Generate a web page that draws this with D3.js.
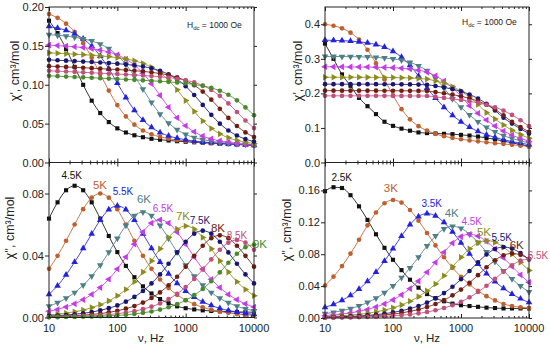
<!DOCTYPE html>
<html>
<head>
<meta charset="utf-8">
<script src="https://cdn.jsdelivr.net/npm/d3@7"></script>
<style>
  body { margin: 0; background: #fff; }
  svg { display: block; font-family: "Liberation Sans", Arial, sans-serif; }
</style>
</head>
<body>
<svg id="chart" width="550" height="349"></svg>
<script>
// ac frequencies, Hz (8 points per decade)
const freqs = [10, 13.34, 17.78, 23.71, 31.62, 42.17, 56.23, 74.99, 100, 133.4, 177.8, 237.1,
  316.2, 421.7, 562.3, 749.9, 1000, 1334, 1778, 2371, 3162, 4217, 5623, 7499, 10000];

const tempsLeft = ["4.5K", "5K", "5.5K", "6K", "6.5K", "7K", "7.5K", "8K", "8.5K", "9K"];
const tempsRight = ["2.5K", "3K", "3.5K", "4K", "4.5K", "5K", "5.5K", "6K", "6.5K"];

// chi' left (cm3/mol), one row per temperature
const leftRe = [
  [.1824,.1665,.1461,.1230,.0999,.0795,.0636,.0520,.0439,.0386,.0350,.0325,.0305,.0293,.0283,.0274,.0267,.0260,.0254,.0248,.0242,.0237,.0232,.0227,.0222],
  [.1910,.1861,.1786,.1680,.1535,.1348,.1137,.0925,.0738,.0593,.0487,.0412,.0363,.0330,.0306,.0288,.0277,.0267,.0258,.0252,.0245,.0238,.0232,.0227,.0222],
  [.1750,.1729,.1700,.1656,.1590,.1497,.1370,.1206,.1021,.0836,.0672,.0545,.0452,.0386,.0342,.0313,.0292,.0275,.0264,.0255,.0247,.0241,.0234,.0228,.0222],
  [.1645,.1636,.1626,.1610,.1591,.1563,.1523,.1463,.1377,.1261,.1111,.0942,.0773,.0623,.0507,.0421,.0361,.0321,.0293,.0274,.0258,.0248,.0239,.0232,.0225],
  [.1510,.1504,.1497,.1488,.1479,.1464,.1446,.1421,.1385,.1330,.1254,.1149,.1014,.0863,.0711,.0576,.0472,.0395,.0340,.0304,.0279,.0261,.0246,.0237,.0228],
  [.1410,.1405,.1399,.1393,.1387,.1379,.1371,.1362,.1348,.1332,.1308,.1274,.1224,.1154,.1058,.0935,.0796,.0657,.0534,.0438,.0368,.0318,.0284,.0260,.0244],
  [.1320,.1315,.1310,.1304,.1298,.1292,.1286,.1279,.1271,.1262,.1249,.1234,.1212,.1180,.1134,.1069,.0981,.0868,.0741,.0613,.0500,.0412,.0347,.0301,.0269],
  [.1239,.1234,.1229,.1224,.1219,.1213,.1207,.1201,.1196,.1189,.1181,.1172,.1160,.1145,.1125,.1096,.1053,.0993,.0912,.0808,.0690,.0573,.0469,.0387,.0327],
  [.1180,.1175,.1170,.1165,.1160,.1154,.1149,.1143,.1137,.1132,.1126,.1119,.1112,.1103,.1092,.1077,.1058,.1030,.0990,.0934,.0857,.0760,.0650,.0540,.0443],
  [.1115,.1110,.1105,.1100,.1095,.1090,.1085,.1079,.1074,.1068,.1063,.1057,.1051,.1045,.1037,.1029,.1018,.1004,.0986,.0960,.0923,.0871,.0800,.0709,.0608]
];

// chi'' left
const leftIm = [
  [.0638,.0743,.0821,.0850,.0821,.0743,.0638,.0526,.0422,.0333,.0260,.0201,.0155,.0119,.0092,.0072,.0060,.0052,.0046,.0042,.0040,.0038,.0036,.0035,.0034],
  [.0314,.0398,.0495,.0600,.0699,.0773,.0800,.0773,.0699,.0600,.0495,.0398,.0314,.0245,.0190,.0146,.0112,.0086,.0066,.0050,.0038,.0030,.0022,.0018,.0014],
  [.0150,.0205,.0275,.0358,.0446,.0540,.0629,.0696,.0720,.0696,.0629,.0540,.0446,.0358,.0282,.0220,.0171,.0131,.0101,.0078,.0059,.0045,.0035,.0027,.0020],
  [.0073,.0095,.0124,.0161,.0208,.0267,.0338,.0421,.0510,.0594,.0657,.0680,.0657,.0594,.0510,.0421,.0338,.0267,.0208,.0161,.0124,.0095,.0073,.0056,.0043],
  [.0040,.0052,.0068,.0088,.0115,.0149,.0193,.0247,.0313,.0390,.0473,.0551,.0609,.0630,.0609,.0551,.0473,.0390,.0313,.0247,.0193,.0149,.0115,.0088,.0068],
  [.0017,.0022,.0028,.0037,.0048,.0064,.0083,.0107,.0140,.0181,.0231,.0293,.0365,.0443,.0516,.0570,.0590,.0570,.0516,.0443,.0365,.0293,.0231,.0181,.0140],
  [.0010,.0012,.0016,.0021,.0027,.0035,.0046,.0060,.0078,.0102,.0133,.0171,.0220,.0278,.0347,.0420,.0489,.0541,.0560,.0541,.0489,.0420,.0347,.0278,.0220],
  [.0005,.0007,.0009,.0012,.0015,.0020,.0025,.0033,.0043,.0057,.0074,.0096,.0126,.0162,.0208,.0263,.0328,.0398,.0463,.0512,.0530,.0512,.0463,.0398,.0328],
  [.0003,.0004,.0005,.0007,.0009,.0011,.0014,.0019,.0024,.0032,.0041,.0054,.0070,.0091,.0119,.0153,.0196,.0249,.0310,.0375,.0437,.0483,.0500,.0483,.0437],
  [.0001,.0002,.0003,.0003,.0005,.0006,.0008,.0010,.0013,.0017,.0023,.0030,.0039,.0051,.0066,.0086,.0111,.0144,.0184,.0234,.0291,.0353,.0411,.0454,.0470]
];

// chi' right
const rightRe = [
  [.344,.300,.255,.222,.187,.163,.140,.118,.106,.098,.092,.087,.085,.084,.083,.082,.080,.078,.075,.071,.067,.062,.057,.052,.047],
  [.4000,.3956,.3883,.3757,.3558,.3264,.2867,.2404,.1941,.1544,.1250,.1051,.0925,.0829,.0760,.0711,.0673,.0640,.0612,.0585,.0560,.0536,.0512,.0488,.0464],
  [.3540,.3534,.3526,.3515,.3492,.3461,.3414,.3338,.3220,.3049,.2811,.2503,.2152,.1864,.1599,.1368,.1178,.1023,.0900,.0804,.0726,.0660,.0605,.0559,.0518],
  [.3070,.3068,.3066,.3063,.3059,.3052,.3042,.3024,.2998,.2959,.2896,.2798,.2657,.2435,.2155,.1841,.1598,.1374,.1178,.1017,.0884,.0778,.0694,.0626,.0567],
  [.2770,.2769,.2768,.2766,.2764,.2762,.2758,.2752,.2744,.2728,.2705,.2671,.2616,.2507,.2360,.2164,.1918,.1641,.1427,.1229,.1055,.0912,.0793,.0698,.0622],
  [.2468,.2468,.2468,.2467,.2467,.2465,.2463,.2461,.2458,.2453,.2446,.2432,.2413,.2360,.2290,.2193,.2064,.1894,.1681,.1442,.1256,.1084,.0933,.0808,.0703],
  [.2268,.2268,.2268,.2268,.2268,.2268,.2267,.2265,.2264,.2262,.2259,.2255,.2249,.2213,.2172,.2122,.2057,.1969,.1852,.1699,.1508,.1294,.1127,.0972,.0836],
  [.2079,.2079,.2079,.2079,.2079,.2079,.2078,.2077,.2076,.2075,.2073,.2071,.2067,.2037,.2003,.1964,.1918,.1858,.1778,.1673,.1536,.1365,.1175,.1026,.0888],
  [.1929,.1929,.1929,.1929,.1929,.1929,.1929,.1929,.1928,.1928,.1926,.1925,.1924,.1898,.1870,.1841,.1808,.1771,.1727,.1671,.1598,.1502,.1377,.1224,.1052]
];

// chi'' right
const rightIm = [
  [.159,.164,.163,.154,.140,.123,.105,.088,.073,.060,.048,.038,.030,.025,.021,.018,.016,.015,.014,.013,.0125,.012,.012,.012,.012],
  [.0408,.0518,.0651,.0808,.0981,.1162,.1323,.1439,.1480,.1447,.1354,.1221,.1066,.0910,.0762,.0630,.0517,.0420,.0340,.0274,.0221,.0176,.0150,.0135,.0125],
  [.0134,.0172,.0221,.0283,.0362,.0459,.0576,.0715,.0869,.1028,.1171,.1273,.1310,.1281,.1199,.1081,.0943,.0806,.0675,.0558,.0457,.0372,.0301,.0242,.0195],
  [.0054,.0070,.0091,.0117,.0151,.0194,.0248,.0317,.0403,.0506,.0628,.0762,.0903,.1028,.1118,.1150,.1125,.1052,.0949,.0828,.0707,.0592,.0490,.0401,.0327],
  [.0029,.0039,.0049,.0064,.0083,.0107,.0138,.0177,.0227,.0290,.0368,.0462,.0573,.0696,.0824,.0939,.1021,.1050,.1027,.0961,.0866,.0756,.0646,.0541,.0447],
  [.0016,.0021,.0027,.0036,.0046,.0059,.0077,.0099,.0127,.0164,.0210,.0268,.0340,.0427,.0530,.0643,.0761,.0867,.0943,.0970,.0949,.0888,.0800,.0698,.0597],
  [.0009,.0012,.0015,.0020,.0025,.0033,.0042,.0054,.0070,.0091,.0117,.0150,.0192,.0246,.0312,.0392,.0486,.0590,.0699,.0796,.0865,.0890,.0870,.0814,.0734],
  [.0006,.0008,.0011,.0014,.0018,.0023,.0030,.0038,.0049,.0064,.0083,.0106,.0137,.0175,.0224,.0284,.0356,.0442,.0537,.0636,.0724,.0787,.0810,.0792,.0741],
  [.0004,.0004,.0006,.0007,.0010,.0013,.0016,.0021,.0027,.0035,.0045,.0058,.0075,.0097,.0125,.0160,.0204,.0259,.0326,.0404,.0491,.0581,.0662,.0719,.0740]
];

// where each temperature label sits, in data units [freq, chi'']
const labelsLeft = [[21.5,.0919],[55.7,.0855],[121,.0816],[245,.0765],[466,.0706],[914,.0655],[1622,.0623],[2972,.0577],[5636,.0532],[12240,.0474]];
const labelsRight = [[17.6,.176],[93,.163],[371,.144],[730,.1317],[1435,.1208],[2178,.1082],[3970,.1007],[6590,.0915],[13550,.0781]];

const colors = ["#111111", "#c0602e", "#2323dd", "#4f7f86", "#c43ce6", "#8c8c1e", "#171772", "#701d12", "#c24f7c", "#4a8a2c"];
const shapes = ["square", "circle", "up", "down", "left", "right", "circle", "circle", "circle", "circle"];

const svg = d3.select("#chart");

const minorTicks = [];
[10, 100, 1000].forEach((d) => { for (let m = 2; m <= 9; m++) minorTicks.push(d * m); });

const symbolFor = (shape) => {
  if (shape === "square") return { path: d3.symbol(d3.symbolSquare, 17)(), rot: 0 };
  if (shape === "circle") return { path: d3.symbol(d3.symbolCircle, 17)(), rot: 0 };
  const rot = { up: 0, down: 180, left: -90, right: 90 }[shape];
  return { path: d3.symbol(d3.symbolTriangle, 19)(), rot };
};

const panels = [
  { x0: 49, x1: 254, y0: 7, y1: 162.5, dom: [0, 0.2], ticks: [0, .05, .1, .15, .2], fmt: ".2f", rows: leftRe, xlabels: false },
  { x0: 49, x1: 254, y0: 162.5, y1: 317.5, dom: [0, 0.1], ticks: [0, .04, .08], fmt: ".2f", rows: leftIm, xlabels: true, temps: tempsLeft, lab: labelsLeft },
  { x0: 325, x1: 529, y0: 7, y1: 162.5, dom: [0, 0.45], ticks: [0, .1, .2, .3, .4], fmt: ".1f", rows: rightRe, xlabels: false },
  { x0: 325, x1: 529, y0: 162.5, y1: 318, dom: [0, 0.195], ticks: [0, .04, .08, .12, .16], fmt: ".2f", rows: rightIm, xlabels: true, temps: tempsRight, lab: labelsRight }
];

panels.forEach((p) => {
  const x = d3.scaleLog().domain([10, 10000]).range([p.x0, p.x1]);
  const y = d3.scaleLinear().domain(p.dom).range([p.y1, p.y0]);
  const g = svg.append("g");

  // series: fit line + markers
  const line = d3.line()
    .x((d, i) => x(freqs[i]))
    .y((d) => y(d))
    .curve(d3.curveMonotoneX);

  p.rows.forEach((vals, si) => {
    g.append("path")
      .attr("d", line(vals))
      .attr("fill", "none")
      .attr("stroke", colors[si])
      .attr("stroke-width", 1)
      .attr("opacity", 0.85);
    const sym = symbolFor(shapes[si]);
    g.append("g")
      .selectAll("path")
      .data(vals)
      .join("path")
      .attr("d", sym.path)
      .attr("fill", colors[si])
      .attr("transform", (d, i) => `translate(${x(freqs[i])},${y(d)}) rotate(${sym.rot})`);
  });

  // frame
  g.append("rect")
    .attr("x", p.x0).attr("y", p.y0)
    .attr("width", p.x1 - p.x0).attr("height", p.y1 - p.y0)
    .attr("fill", "none").attr("stroke", "#222").attr("stroke-width", 1);

  // x axis ticks, inward on both edges
  const majors = [10, 100, 1000, 10000];
  [[d3.axisBottom, p.y1], [d3.axisTop, p.y0]].forEach(([ax, yy]) => {
    const a = g.append("g").attr("transform", `translate(0,${yy})`)
      .call(ax(x).tickValues(majors).tickSize(-4).tickFormat(""));
    a.select(".domain").remove();
    const b = g.append("g").attr("transform", `translate(0,${yy})`)
      .call(ax(x).tickValues(minorTicks).tickSize(-2).tickFormat(""));
    b.select(".domain").remove();
  });

  if (p.xlabels) {
    g.selectAll(".xl")
      .data(majors)
      .join("text")
      .attr("x", (d) => x(d))
      .attr("y", p.y1 + 14)
      .attr("text-anchor", "middle")
      .attr("font-size", 11)
      .attr("fill", "#222")
      .text((d) => d);
  }

  // y axis, ticks outward
  const yl = g.append("g").attr("transform", `translate(${p.x0},0)`)
    .call(d3.axisLeft(y).tickValues(p.ticks).tickSize(4).tickPadding(1).tickFormat(d3.format(p.fmt)));
  yl.select(".domain").remove();
  yl.selectAll("text").attr("font-size", 11).attr("fill", "#222").attr("font-family", "Liberation Sans, Arial, sans-serif");
  const yr = g.append("g").attr("transform", `translate(${p.x1},0)`)
    .call(d3.axisRight(y).tickValues(p.ticks).tickSize(3).tickFormat(""));
  yr.select(".domain").remove();

  // temperature labels
  if (p.temps) {
    g.selectAll(".tl")
      .data(p.temps)
      .join("text")
      .attr("x", (d, i) => x(p.lab[i][0]))
      .attr("y", (d, i) => y(p.lab[i][1]))
      .attr("dy", "0.35em")
      .attr("text-anchor", "middle")
      .attr("font-size", (d) => d.includes(".") ? 10 : 11.5)
      .attr("fill", (d, i) => colors[i])
      .text((d) => d);
  }
});

svg.selectAll("g.tick line").attr("stroke", "#222");

// axis titles
const ytitle = (tx, ty, txt) => {
  svg.append("text")
    .attr("transform", `translate(${tx},${ty}) rotate(-90)`)
    .attr("text-anchor", "middle")
    .attr("font-size", 12.5)
    .attr("fill", "#222")
    .text(txt);
};
ytitle(19, 71, "χ', cm³/mol");
ytitle(14, 228, "χ'', cm³/mol");
ytitle(302, 71, "χ', cm³/mol");
ytitle(291, 230, "χ'', cm³/mol");

[151, 427].forEach((cx) => {
  svg.append("text")
    .attr("x", cx).attr("y", 342)
    .attr("text-anchor", "middle")
    .attr("font-size", 11.5)
    .attr("fill", "#222")
    .text("ν, Hz");
});

// field annotation
[[187, 28], [462, 25]].forEach(([tx, ty]) => {
  const t = svg.append("text").attr("x", tx).attr("y", ty).attr("font-size", 8.5).attr("fill", "#222");
  t.append("tspan").text("H");
  t.append("tspan").attr("font-size", 6).attr("dy", 2).text("dc");
  t.append("tspan").attr("dy", -2).text(" = 1000 Oe");
});
</script>
</body>
</html>
